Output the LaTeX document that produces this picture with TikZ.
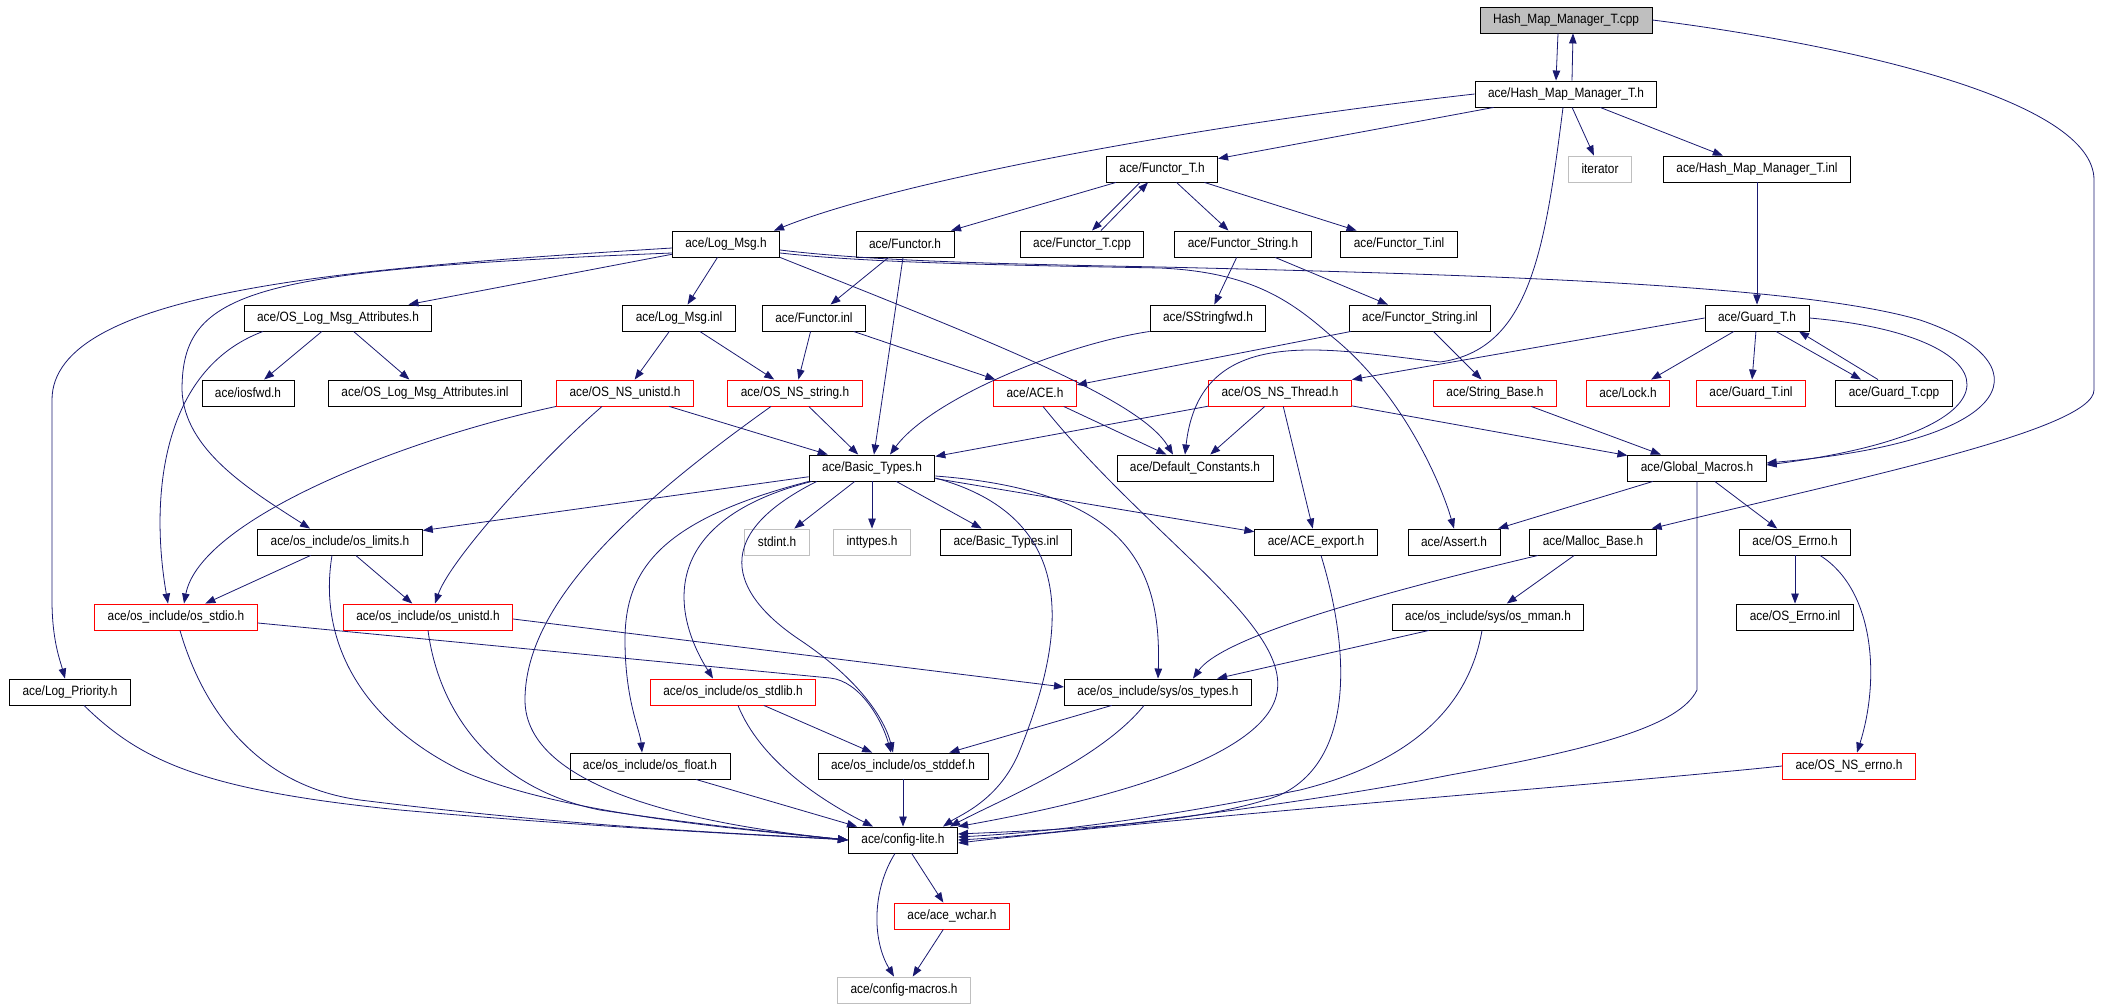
\documentclass[tikz,border=0pt]{standalone}
\usepackage{fontspec}
\setmainfont{Liberation Sans}[FakeStretch=0.88]
\usepackage{xcolor}
\usetikzlibrary{positioning,arrows.meta}
\definecolor{dxblue}{HTML}{191970}
\definecolor{dxgray}{HTML}{BFBFBF}

\begin{document}
\begin{tikzpicture}[x=1pt,y=-1pt,
    file/.style={draw=black,line width=0.9pt,fill=white,minimum height=26pt,
        inner xsep=13pt,inner ysep=0pt,font=\fontsize{13.5}{15}\selectfont},
    trunc/.style={file,draw=red},
    ext/.style={file,draw=dxgray},
    root/.style={file,fill=dxgray},
    inc/.style={draw=dxblue,line width=0.8pt,-{Triangle[length=10pt,width=7.5pt]}}]
    \useasboundingbox (0,0) rectangle (2112,1008);

    % Files
    \node[root] (cpp) at (1566,20) {Hash\_Map\_Manager\_T.cpp};
    \node[file] (hmh) at (1566,94) {ace/Hash\_Map\_Manager\_T.h};

    \node[file] (functorTh) at (1162,169) {ace/Functor\_T.h};
    \node[ext] (iter) at (1600,169) {iterator};
    \node[file] (hminl) at (1757,169) {ace/Hash\_Map\_Manager\_T.inl};

    \node[file] (logmsg) at (726,244) {ace/Log\_Msg.h};
    \node[file] (functorh) at (905,244) {ace/Functor.h};
    \node[file] (functorTcpp) at (1082,244) {ace/Functor\_T.cpp};
    \node[file] (fstrh) at (1243,244) {ace/Functor\_String.h};
    \node[file] (functorTinl) at (1399,244) {ace/Functor\_T.inl};

    \node[file] (attrh) at (338,318) {ace/OS\_Log\_Msg\_Attributes.h};
    \node[file] (logmsginl) at (679,318) {ace/Log\_Msg.inl};
    \node[file] (functorinl) at (814,318) {ace/Functor.inl};
    \node[file] (sstrfwd) at (1208,318) {ace/SStringfwd.h};
    \node[file] (fstrinl) at (1420,318) {ace/Functor\_String.inl};
    \node[file] (guardh) at (1757,318) {ace/Guard\_T.h};

    \node[file] (iosfwd) at (248,393) {ace/iosfwd.h};
    \node[file] (attrinl) at (425,393) {ace/OS\_Log\_Msg\_Attributes.inl};
    \node[trunc] (nsunistd) at (625,393) {ace/OS\_NS\_unistd.h};
    \node[trunc] (nsstring) at (795,393) {ace/OS\_NS\_string.h};
    \node[trunc] (aceh) at (1035,393) {ace/ACE.h};
    \node[trunc] (nsthread) at (1280,393) {ace/OS\_NS\_Thread.h};
    \node[trunc] (strbase) at (1495,393) {ace/String\_Base.h};
    \node[trunc] (lock) at (1628,393) {ace/Lock.h};
    \node[trunc] (guardinl) at (1751,393) {ace/Guard\_T.inl};
    \node[file] (guardcpp) at (1894,393) {ace/Guard\_T.cpp};

    \node[file] (basic) at (872,468) {ace/Basic\_Types.h};
    \node[file] (defconst) at (1195,468) {ace/Default\_Constants.h};
    \node[file] (globmac) at (1697,468) {ace/Global\_Macros.h};

    \node[file] (limits) at (340,542) {ace/os\_include/os\_limits.h};
    \node[ext] (stdint) at (777,542) {stdint.h};
    \node[ext] (inttypes) at (872,542) {inttypes.h};
    \node[file] (basicinl) at (1006,542) {ace/Basic\_Types.inl};
    \node[file] (aceexport) at (1316,542) {ace/ACE\_export.h};
    \node[file] (assert) at (1454,542) {ace/Assert.h};
    \node[file] (mallocb) at (1593,542) {ace/Malloc\_Base.h};
    \node[file] (oserrno) at (1795,542) {ace/OS\_Errno.h};

    \node[trunc] (stdio) at (176,617) {ace/os\_include/os\_stdio.h};
    \node[trunc] (unistd) at (428,617) {ace/os\_include/os\_unistd.h};
    \node[file] (mman) at (1488,617) {ace/os\_include/sys/os\_mman.h};
    \node[file] (errnoinl) at (1795,617) {ace/OS\_Errno.inl};

    \node[file] (logprio) at (70,692) {ace/Log\_Priority.h};
    \node[trunc] (stdlib) at (733,692) {ace/os\_include/os\_stdlib.h};
    \node[file] (ostypes) at (1158,692) {ace/os\_include/sys/os\_types.h};

    \node[file] (osfloat) at (650,766) {ace/os\_include/os\_float.h};
    \node[file] (stddef) at (903,766) {ace/os\_include/os\_stddef.h};
    \node[trunc] (nserrno) at (1849,766) {ace/OS\_NS\_errno.h};

    \node[file] (cfglite) at (903,840) {ace/config-lite.h};
    \node[trunc] (wchar) at (952,916) {ace/ace\_wchar.h};
    \node[ext] (cfgmacros) at (904,990) {ace/config-macros.h};

    % Hash_Map_Manager_T.cpp
    \draw[inc] ([xshift=-8pt]cpp.south) -- ([xshift=-10pt]hmh.north);
    \draw[inc] ([xshift=6pt]hmh.north) -- ([xshift=7pt]cpp.south);
    \draw[inc] (cpp.east) .. controls (1850,45) and (2094,100) .. (2094,180) -- (2094,390)
        .. controls (2094,430) and (1850,480) .. ([xshift=-5pt]mallocb.north east);

    % Hash_Map_Manager_T.h
    \draw[inc] (hmh.west) .. controls (1200,125) and (900,180) .. ([xshift=-6pt]logmsg.north east);
    \draw[inc] (hmh) -- (functorTh);
    \draw[inc] (hmh) -- (iter);
    \draw[inc] (hmh) -- (hminl);
    \draw[inc] ([xshift=-3pt]hmh.south) .. controls (1545,250) and (1530,350) .. (1440,362)
        .. controls (1330,350) and (1200,320) .. ([xshift=-10pt]defconst.north);
    \draw[inc] (hminl) -- (guardh);

    % Functor_T.h
    \draw[inc] (functorTh) -- (functorh);
    \draw[inc] ([xshift=-22pt]functorTh.south) -- ([xshift=10pt]functorTcpp.north);
    \draw[inc] ([xshift=19pt]functorTcpp.north) -- ([xshift=-14pt]functorTh.south);
    \draw[inc] (functorTh) -- (fstrh);
    \draw[inc] (functorTh) -- (functorTinl);
    \draw[inc] (functorh) -- (functorinl);
    \draw[inc] (functorh) -- (basic);
    \draw[inc] (functorinl) -- (nsstring);
    \draw[inc] (functorinl) -- (aceh);

    % Functor_String.h
    \draw[inc] (fstrh) -- (sstrfwd);
    \draw[inc] (fstrh) -- (fstrinl);
    \draw[inc] (sstrfwd.south west) .. controls (1060,345) and (930,400) .. ([xshift=18pt]basic.north);
    \draw[inc] (fstrinl) -- (aceh);
    \draw[inc] (fstrinl) -- (strbase);

    % Log_Msg.h
    \draw[inc] (logmsg) -- (attrh);
    \draw[inc] (logmsg) -- (logmsginl);
    \draw[inc] ([yshift=-4pt]logmsg.west) .. controls (350,268) and (52,290) .. (52,400) -- (52,600)
        .. controls (52,640) and (60,660) .. ([xshift=-5pt]logprio.north);
    \draw[inc] ([yshift=-9pt]logmsg.west) .. controls (250,270) and (182,290) .. (182,390)
        .. controls (184,450) and (250,490) .. ([xshift=-30pt]limits.north);
    \draw[inc] (logmsg.south east) .. controls (1000,345) and (1140,400) .. ([xshift=-22pt]defconst.north);
    \draw[inc] ([yshift=-9pt]logmsg.east) .. controls (870,263) and (1000,265) .. (1160,268)
        .. controls (1250,272) and (1290,300) .. (1330,335)
        .. controls (1400,390) and (1440,480) .. (assert.north);
    \draw[inc] ([yshift=-6pt]logmsg.east) .. controls (870,261) and (1000,264) .. (1160,267)
        .. controls (1500,275) and (1800,285) .. (1920,320)
        .. controls (2040,360) and (2030,440) .. ([yshift=5pt]globmac.east);
    \draw[inc] (logmsginl) -- (nsunistd);
    \draw[inc] (logmsginl) -- (nsstring);

    % OS_Log_Msg_Attributes.h
    \draw[inc] (attrh) -- (iosfwd);
    \draw[inc] (attrh) -- (attrinl);
    \draw[inc] ([xshift=-75pt]attrh.south) .. controls (160,370) and (150,500) .. ([xshift=-8pt]stdio.north);

    % OS_NS_*.h and ACE.h
    \draw[inc] (nsunistd.south west) .. controls (400,440) and (200,520) .. ([xshift=8pt]stdio.north);
    \draw[inc] ([xshift=-23pt]nsunistd.south) .. controls (540,460) and (450,560) .. ([xshift=7pt]unistd.north);
    \draw[inc] (nsunistd) -- (basic);
    \draw[inc] (nsstring) -- (basic);
    \draw[inc] ([xshift=-24pt]nsstring.south) .. controls (640,500) and (525,600) .. (525,700)
        .. controls (525,790) and (700,825) .. (cfglite.west);
    \draw[inc] (aceh) -- (defconst);
    \draw[inc] ([xshift=8pt]aceh.south) .. controls (1150,540) and (1300,630) .. (1275,700)
        .. controls (1250,770) and (1050,810) .. (cfglite.north east);
    \draw[inc] (nsthread) -- (basic);
    \draw[inc] (nsthread) -- (defconst);
    \draw[inc] (nsthread) -- (aceexport);
    \draw[inc] (nsthread) -- (globmac);
    \draw[inc] (strbase) -- (globmac);

    % Guard_T.h
    \draw[inc] (guardh) -- (lock);
    \draw[inc] (guardh) -- (guardinl);
    \draw[inc] ([xshift=19pt]guardh.south) -- ([xshift=-33pt]guardcpp.north);
    \draw[inc] ([xshift=-16pt]guardcpp.north) -- ([xshift=42pt]guardh.south);
    \draw[inc] (guardh.west) -- (nsthread.north east);
    \draw[inc] (guardh.east) .. controls (2010,335) and (2040,430) .. ([yshift=3pt]globmac.east);

    % Basic_Types.h
    \draw[inc] (basic) -- (limits);
    \draw[inc] (basic) -- (stdint);
    \draw[inc] (basic) -- (inttypes);
    \draw[inc] (basic) -- (basicinl);
    \draw[inc] (basic) -- (aceexport);
    \draw[inc] ([yshift=-8pt]basic.east) .. controls (1120,490) and (1162,560) .. (ostypes.north);
    \draw[inc] ([yshift=-10pt]basic.east) .. controls (1090,520) and (1060,650) .. (1020,750)
        .. controls (1000,800) and (960,815) .. ([xshift=-15pt]cfglite.north east);
    \draw[inc] (basic.south west) .. controls (660,520) and (625,570) .. (625,640)
        .. controls (625,700) and (640,730) .. ([xshift=-8pt]osfloat.north);
    \draw[inc] ([xshift=3pt]basic.south west) .. controls (660,520) and (670,610) .. ([xshift=-20pt]stdlib.north);
    \draw[inc] ([xshift=8pt]basic.south west) .. controls (700,540) and (740,600) .. (800,640)
        .. controls (860,680) and (885,720) .. ([xshift=-10pt]stddef.north);

    % os_include
    \draw[inc] (limits) -- (stdio);
    \draw[inc] (limits) -- (unistd);
    \draw[inc] ([xshift=-8pt]limits.south) .. controls (318,640) and (360,720) .. (460,770)
        .. controls (560,815) and (750,830) .. (cfglite.west);
    \draw[inc] ([xshift=4pt]stdio.south) .. controls (200,700) and (250,785) .. (360,800)
        .. controls (600,830) and (780,835) .. (cfglite.west);
    \draw[inc] ([yshift=-6pt]stdio.east) -- (830,678)
        .. controls (860,681) and (882,720) .. ([xshift=-12pt]stddef.north);
    \draw[inc] (unistd.south) .. controls (440,720) and (500,790) .. (600,810)
        .. controls (700,825) and (800,835) .. (cfglite.west);
    \draw[inc] ([yshift=-2pt]unistd.east) -- ([yshift=5pt]ostypes.west);
    \draw[inc] ([xshift=14pt]logprio.south) .. controls (140,760) and (200,790) .. (400,810)
        .. controls (600,828) and (780,836) .. (cfglite.west);
    \draw[inc] (stdlib) -- (stddef);
    \draw[inc] ([xshift=5pt]stdlib.south) .. controls (760,760) and (820,800) .. ([xshift=-30pt]cfglite.north);
    \draw[inc] (osfloat) -- (cfglite);
    \draw[inc] (stddef) -- (cfglite);
    \draw[inc] (ostypes) -- (stddef);
    \draw[inc] ([xshift=-14pt]ostypes.south) .. controls (1100,760) and (1000,800) .. ([xshift=-8pt]cfglite.north east);
    \draw[inc] ([xshift=5pt]aceexport.south) .. controls (1350,650) and (1355,760) .. (1280,795)
        .. controls (1200,825) and (1050,830) .. ([yshift=6pt]cfglite.east);

    % Malloc_Base.h, Global_Macros.h, OS_Errno.h
    \draw[inc] ([xshift=-55pt]mallocb.south) .. controls (1350,600) and (1220,640) .. ([xshift=35pt]ostypes.north);
    \draw[inc] (mallocb) -- (mman);
    \draw[inc] (mman) -- (ostypes);
    \draw[inc] ([xshift=-6pt]mman.south) .. controls (1470,700) and (1420,760) .. (1300,790)
        .. controls (1150,820) and (1050,832) .. ([yshift=3pt]cfglite.east);
    \draw[inc] (globmac) -- (assert);
    \draw[inc] (globmac) -- (oserrno);
    \draw[inc] (globmac.south) -- (1697,690) .. controls (1680,725) and (1600,748) .. (1450,775)
        .. controls (1300,805) and (1050,835) .. (cfglite.east);
    \draw[inc] (oserrno) -- (errnoinl);
    \draw[inc] ([xshift=25pt]oserrno.south) .. controls (1875,590) and (1880,680) .. ([xshift=8pt]nserrno.north);
    \draw[inc] (nserrno.west) .. controls (1600,785) and (1200,815) .. ([yshift=-3pt]cfglite.east);

    % config-lite.h
    \draw[inc] (cfglite) -- (wchar);
    \draw[inc] ([xshift=-8pt]cfglite.south) .. controls (872,890) and (872,940) .. ([xshift=-10pt]cfgmacros.north);
    \draw[inc] (wchar) -- (cfgmacros);
\end{tikzpicture}
\end{document}
